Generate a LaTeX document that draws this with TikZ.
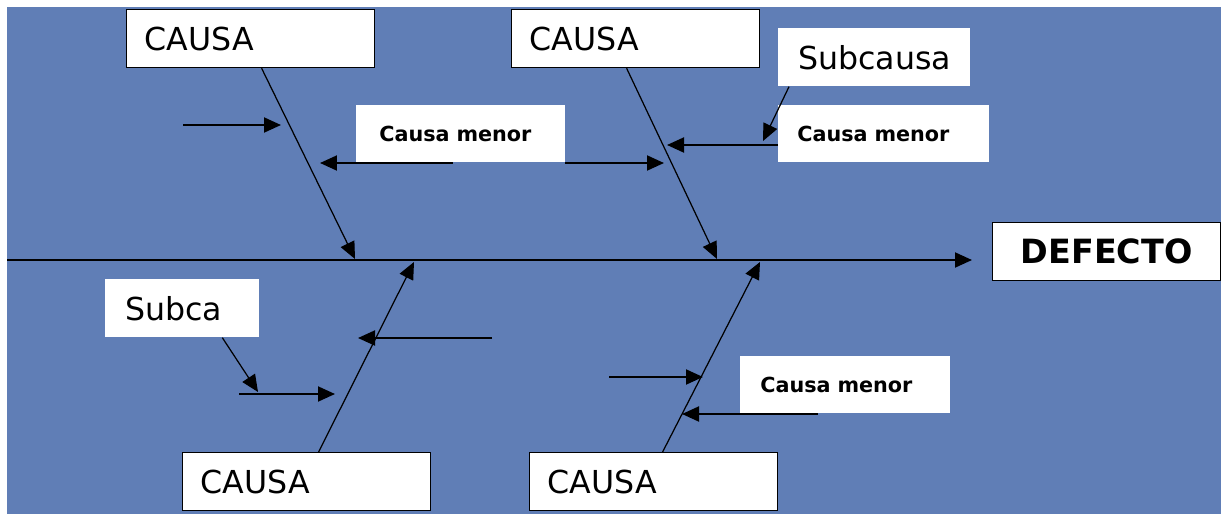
\documentclass[tikz,border=0pt]{standalone}
\usepackage{fontspec}
\setmainfont{DejaVu Sans}
\usetikzlibrary{arrows.meta}

\definecolor{tela}{RGB}{96,126,182}

\begin{document}
\begin{tikzpicture}[x=0.02cm,y=-0.02cm,
  caja/.style={fill=white,anchor=north west,minimum height=1.16cm,inner ysep=0pt,align=left},
  causa/.style={caja,draw=black,line width=0.7pt,inner xsep=0.36cm,text width=4.24cm,font=\fontsize{18}{20}\selectfont},
  sub/.style={caja,inner xsep=0.4cm,font=\fontsize{18}{20}\selectfont},
  menor/.style={caja,minimum height=1.14cm,font=\bfseries\fontsize{11.8}{14}\selectfont},
  flecha/.style={-{Triangle[length=0.34cm,width=0.3cm]},line width=1.1pt},
  espina/.style={-{Triangle[length=0.34cm,width=0.3cm]},line width=0.7pt}]
  \useasboundingbox (0,0) rectangle (1221,514);
  \fill[tela] (7,7) rectangle (1221,514);

  \node[causa] (c1) at (126,9) {CAUSA};
  \node[causa] (c2) at (511,9) {CAUSA};
  \node[causa] (c3) at (182,452) {CAUSA};
  \node[causa] (c4) at (529,452) {CAUSA};
  \node[sub,text width=3.04cm] (sub1) at (778,28) {Subcausa};
  \node[sub,text width=2.28cm] (sub2) at (105,279) {Subca};
  \node[menor,inner xsep=0.46cm,text width=3.26cm] (m1) at (356,105) {Causa menor};
  \node[menor,inner xsep=0.38cm,text width=3.46cm] (m2) at (778,105) {Causa menor};
  \node[menor,inner xsep=0.4cm,text width=3.4cm] (m3) at (740,356) {Causa menor};
  \node[caja,draw=black,line width=0.7pt,minimum width=4.56cm,align=center,
    font=\bfseries\fontsize{19}{22}\selectfont] (defecto) at (992,222) {DEFECTO};

  \coordinate (s0) at (7,260);
  \coordinate (s1) at (972,260);
  \coordinate (e1) at (355,259);
  \coordinate (e2) at (717,259);
  \coordinate (e3) at (414,262);
  \coordinate (e4) at (760,262);

  \draw[flecha] (s0) -- (s1);
  \draw[espina] ([xshift=0.22cm]c1.south) -- (e1);
  \draw[espina] ([xshift=-0.18cm]c2.south) -- (e2);
  \draw[espina] ([xshift=0.24cm]c3.north) -- (e3);
  \draw[espina] ([xshift=0.18cm]c4.north) -- (e4);

  \coordinate (a1) at (183,125);
  \coordinate (p1) at (281,125);
  \coordinate (a2) at (453,163);
  \coordinate (p2) at (320,163);
  \coordinate (a3) at (565,163);
  \coordinate (p3) at (664,163);
  \coordinate (a4) at (778,145);
  \coordinate (p4) at (667,145);
  \coordinate (p5) at (763,141);
  \coordinate (p6) at (258,392);
  \coordinate (a7) at (239,394);
  \coordinate (p7) at (335,394);
  \coordinate (a8) at (492,338);
  \coordinate (p8) at (358,338);
  \coordinate (a9) at (609,377);
  \coordinate (p9) at (703,377);
  \coordinate (a10) at (818,414);
  \coordinate (p10) at (682,414);

  \draw[flecha] (a1) -- (p1);
  \draw[flecha] (a2) -- (p2);
  \draw[flecha] (a3) -- (p3);
  \draw[flecha] (a4) -- (p4);
  \draw[espina] ([xshift=0.22cm]sub1.south west) -- (p5);
  \draw[espina] ([xshift=0.8cm]sub2.south) -- (p6);
  \draw[flecha] (a7) -- (p7);
  \draw[flecha] (a8) -- (p8);
  \draw[flecha] (a9) -- (p9);
  \draw[flecha] (a10) -- (p10);
\end{tikzpicture}
\end{document}
